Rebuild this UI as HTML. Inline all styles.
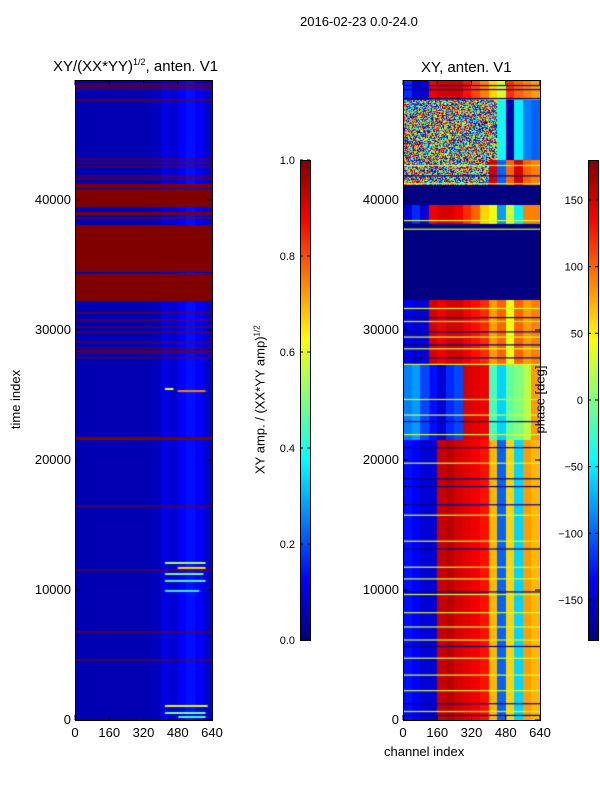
<!DOCTYPE html>
<html><head><meta charset="utf-8"><style>
body{margin:0;background:#fff;font-family:"Liberation Sans",sans-serif;}
#wrap{position:relative;width:600px;height:800px;background:#fff;overflow:hidden}
.t{position:absolute;font-size:13px;color:#000;white-space:nowrap}
canvas{position:absolute}
</style></head><body>
<div id="wrap">
<div class="t" style="left:300px;top:14px;font-size:13px">2016-02-23 0.0-24.0</div>
<div class="t" style="left:53px;top:57px;font-size:15px">XY/(XX*YY)<sup style="font-size:9px">1/2</sup>, anten. V1</div>
<div class="t" style="left:421px;top:59px;font-size:15px">XY, anten. V1</div>
<canvas id="c1" width="137" height="640" style="left:75px;top:80px"></canvas>
<canvas id="c2" width="137" height="640" style="left:403px;top:80px"></canvas>
<canvas id="cb1" width="10" height="480" style="left:300px;top:160px"></canvas>
<canvas id="cb2" width="10" height="480" style="left:588px;top:160px"></canvas>
<svg id="ov" width="600" height="800" style="position:absolute;left:0;top:0"></svg>
<div class="t" style="left:-14px;top:392px;transform:rotate(-90deg)">time index</div>
<div class="t" style="left:384px;top:744px">channel index</div>
<div class="t" style="left:180px;top:392px;transform:rotate(-90deg);width:160px;text-align:center">XY amp. / (XX*YY amp)<sup style="font-size:8px">1/2</sup></div>
<div class="t" style="left:505px;top:392px;transform:rotate(-90deg);width:70px;text-align:center">phase [deg]</div>
</div>
<script>
// ---- data ----
const TMAX = 49230;
const yTicks = [0,10000,20000,30000,40000];
const xTicks = [0,160,320,480,640];
const ampTicks = [0.0,0.2,0.4,0.6,0.8,1.0];
const phaseTicks = [-150,-100,-50,0,50,100,150];
// amplitude background per 40-channel bin
const ampProfile = [0.05,0.05,0.05,0.05,0.05,0.05,0.05,0.05,0.05,0.06,0.1,0.08,0.12,0.14,0.12,0.08];
// red (amp=1) time bands
const redStart = [48880,48730,48500,47640,43110,42810,42500,41810,41570,40920,39460,38850,38570,34460,32230,31270,30730,30190,29810,29040,28580,28340,28190,27810,21540,16420,11500,6730,4580];
const redEnd   = [48960,48810,48580,47740,43190,42890,42580,41890,41650,41230,40850,39080,38650,38080,34310,31350,30810,30270,29890,29120,28660,28420,28270,27890,21770,16500,11580,6810,4660];
// bright amplitude patches
const patchT = [25460,25300,12080,11700,11230,10700,9930,1080,540,230];
const patchCh0 = [420,480,420,480,420,420,420,420,420,480];
const patchCh1 = [460,610,610,610,600,610,580,620,610,610];
const patchV = [0.6,0.75,0.55,0.65,0.5,0.45,0.4,0.6,0.5,0.45];
// phase segments (deg per 40-channel bin; null = noisy)
const segStart = [47700,43100,41150,39600,38080,32300,27300,21540,0];
const segEnd   = [49230,47700,43100,41150,39600,38080,32300,27300,21540];
const segProfile = [
 [-120,-150,-150,140,150,150,150,130,110,90,60,30,120,100,90,80],
 [null,null,null,null,null,null,null,null,null,null,null,-40,-165,-50,-90,-100],
 [null,null,null,null,null,null,null,null,null,null,150,-100,100,150,100,90],
 [-180,-180,-180,-180,-180,-180,-180,-180,-180,-180,-180,-180,-180,-180,-180,-180],
 [-150,-120,-150,140,150,150,140,120,100,60,40,-80,30,-50,90,90],
 [-180,-180,-180,-180,-180,-180,-180,-180,-180,-180,-180,-180,-180,-180,-180,-180],
 [-140,-150,-150,150,140,150,150,140,130,120,80,100,40,100,80,90],
 [-90,-80,-110,-130,-150,-120,-110,150,145,140,-20,-60,-10,0,20,80],
 [-130,-135,-150,-150,155,160,150,145,140,130,70,-100,60,-60,80,70]
];
// horizontal phase lines
const lineT = [48850,48540,47850,42700,41900,41300,41000,38460,38160,37800,31700,31000,30700,29900,29500,28900,28600,27900,27400,24700,23500,23000,22000,21000,19800,18600,18000,16600,15800,13800,13200,11800,10900,9900,9700,8300,7200,6200,5700,4800,3500,2300,1300,700,400];
const lineV = [-180,-180,-180,30,-180,30,-180,30,-180,30,30,-180,30,-180,30,-180,30,-180,30,30,30,-180,30,-180,30,-180,-180,-180,30,30,-180,30,30,-180,30,30,30,30,-180,30,30,30,-180,30,-180];
// ---- helpers ----
function jet(v){v=Math.max(0,Math.min(1,v));const c=x=>Math.round(255*Math.max(0,Math.min(1,1.5-Math.abs(x))));return [c(4*v-3),c(4*v-2),c(4*v-1)];}
const H=640,W=137;
const yS=t=>H-t/TMAX*H;
const xS=ch=>ch/640*W;
function hash(a,b){let h=(a*374761393+b*668265263)|0;h=(h^(h>>>13))*1274126177|0;return ((h^(h>>>16))>>>0)/4294967296;}
function draw(id,fn){const cv=document.getElementById(id),ctx=cv.getContext('2d');const img=ctx.createImageData(W,H);
 for(let y=0;y<H;y++){const t=(H-y-0.5)/H*TMAX;for(let x=0;x<W;x++){const ch=(x+0.5)/W*640;const c=jet(fn(t,ch,x,y));const i=(y*W+x)*4;img.data[i]=c[0];img.data[i+1]=c[1];img.data[i+2]=c[2];img.data[i+3]=255;}}
 ctx.putImageData(img,0,0);return ctx;}
const ctx1=draw('c1',(t,ch)=>ampProfile[Math.min(15,Math.floor(ch/40))]);
ctx1.fillStyle='rgb(128,0,0)';
for(let i=0;i<redStart.length;i++){const y0=yS(redEnd[i]),y1=yS(redStart[i]);ctx1.fillRect(0,y0,W,Math.max(1,y1-y0));}
for(let i=0;i<patchT.length;i++){const c=jet(patchV[i]);ctx1.fillStyle=`rgb(${c})`;ctx1.fillRect(xS(patchCh0[i]),yS(patchT[i])-1,xS(patchCh1[i])-xS(patchCh0[i]),2);}
const ctx2=draw('c2',(t,ch,x,y)=>{let s=segStart.length-1;for(let k=0;k<segStart.length;k++){if(t>=segStart[k]&&t<segEnd[k]){s=k;break;}}
 const p=segProfile[s][Math.min(15,Math.floor(ch/40))];
 if(p===null){return hash(x,y);}return (p+180)/360;});
for(let i=0;i<lineT.length;i++){const c=jet((lineV[i]+180)/360);ctx2.fillStyle=`rgb(${c})`;ctx2.fillRect(0,yS(lineT[i]),W,1.2);}
['cb1','cb2'].forEach(id=>{const cx=document.getElementById(id).getContext('2d');for(let y=0;y<480;y++){cx.fillStyle=`rgb(${jet(1-(y+0.5)/480)})`;cx.fillRect(0,y,10,1);}});
const ov=document.getElementById('ov');const NS='http://www.w3.org/2000/svg';
function el(tag,attrs,txt){const e=document.createElementNS(NS,tag);for(const k in attrs)e.setAttribute(k,attrs[k]);if(txt!==undefined)e.textContent=txt;ov.appendChild(e);return e;}
[75,403].forEach((px,pi)=>{
 const r=el('rect',{x:px+0.5,y:80.5,width:137,height:640,fill:'none',stroke:'#000','stroke-width':1});
 
 
 yTicks.forEach(v=>{const y=80+yS(v);
  el('line',{x1:px,x2:px+5,y1:y,y2:y,stroke:'#000'});el('line',{x1:px+137-5,x2:px+137,y1:y,y2:y,stroke:'#000'});
  const tx=el('text',{x:px-4,y:y+4,'text-anchor':'end','font-size':13,'font-family':'Liberation Sans'},String(v));
  
  });
 xTicks.forEach(v=>{const x=px+xS(v);
  el('line',{x1:x,x2:x,y1:80,y2:85,stroke:'#000'});el('line',{x1:x,x2:x,y1:715,y2:720,stroke:'#000'});
  const tx=el('text',{x:x,y:737,'text-anchor':'middle','font-size':13,'font-family':'Liberation Sans'},String(v));
  
  });
});
function cbar(px,ticks,lo,hi,fmt){el('rect',{x:px+0.5,y:160.5,width:10,height:480,fill:'none',stroke:'#000'});
 ticks.forEach(v=>{const y=640-(v-lo)/(hi-lo)*480;
  el('line',{x1:px,x2:px+3,y1:y,y2:y,stroke:'#000'});el('line',{x1:px+7,x2:px+10,y1:y,y2:y,stroke:'#000'});
  const tx=el('text',{x:px-5,y:y+4,'text-anchor':'end','font-size':11,'font-family':'Liberation Sans'},fmt(v));
  
  });}
cbar(300,ampTicks,0,1,v=>v.toFixed(1));
cbar(588,phaseTicks,-180,180,v=>String(v).replace('-','\u2212'));
</script>
</body></html>
